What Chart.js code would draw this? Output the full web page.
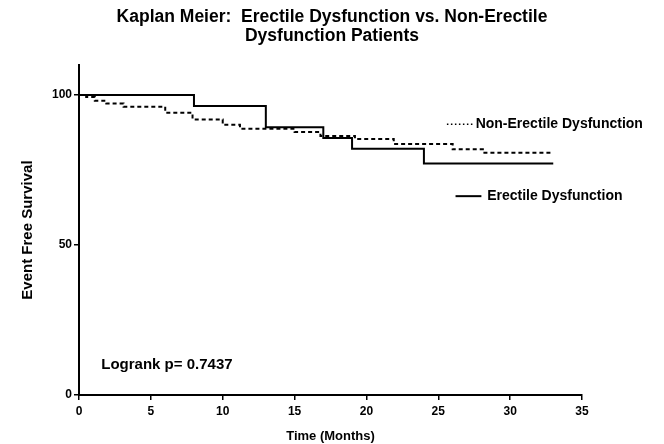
<!DOCTYPE html>
<html>
<head>
<meta charset="utf-8">
<script src="https://cdn.jsdelivr.net/npm/chart.js@4"></script>
<style>
  body { margin: 0; background: #fff; }
  #wrap { width: 664px; height: 444px; }
</style>
</head>
<body>
<div id="wrap"><canvas id="kmChart"></canvas></div>
<script>
const ctx = document.getElementById("kmChart");

// Kaplan Meier step data (time in months, event free survival %)
const timesED = [0, 8, 13, 17, 19, 24, 33];
const survivalED = [100, 96.4, 89.3, 85.7, 82.1, 77.2, 77.2];

const timesNonED = [0, 0.5, 1.1, 1.9, 3.1, 6.0, 7.9, 10.0, 11.2, 15.0, 16.8, 19.2, 21.9, 26.0, 28.1, 33];
const survivalNonED = [100, 99.4, 98.1, 97.2, 96.1, 94.1, 91.9, 90.1, 88.8, 87.7, 86.4, 85.4, 83.7, 81.9, 80.8, 80.8];

const xTicks = [0, 5, 10, 15, 20, 25, 30, 35];
const yTicks = [0, 50, 100];

const seriesLabels = ["Erectile Dysfunction", "Non-Erectile Dysfunction"];
const logrankText = "Logrank p= 0.7437";

const FONT = "'Liberation Sans', Arial, sans-serif";

// text labels placed inside the plot, positioned by data coordinates
const textLabels = {
  id: "textLabels",
  afterDatasetsDraw(chart) {
    const c = chart.ctx;
    const x = chart.scales.x;
    const y = chart.scales.y;
    c.save();
    c.fillStyle = "#000";
    c.strokeStyle = "#000";
    c.font = "bold 14px " + FONT;
    c.textBaseline = "middle";
    c.textAlign = "left";

    // Non-ED legend entry (dotted sample)
    let ly = y.getPixelForValue(90.3);
    c.lineWidth = 1.5;
    c.setLineDash([1.5, 2.5]);
    c.beginPath();
    c.moveTo(x.getPixelForValue(25.6), ly);
    c.lineTo(x.getPixelForValue(27.5), ly);
    c.stroke();
    c.setLineDash([]);
    c.fillText(seriesLabels[1], x.getPixelForValue(27.6), ly);

    // ED legend entry (solid sample)
    ly = y.getPixelForValue(66.3);
    c.lineWidth = 2;
    c.beginPath();
    c.moveTo(x.getPixelForValue(26.2), ly);
    c.lineTo(x.getPixelForValue(28.0), ly);
    c.stroke();
    c.fillText(seriesLabels[0], x.getPixelForValue(28.4), ly);

    c.font = "bold 15px " + FONT;
    c.fillText(logrankText, x.getPixelForValue(1.55), y.getPixelForValue(10));
    c.restore();
  },
};

new Chart(ctx, {
  type: "line",
  data: {
    datasets: [
      {
        label: seriesLabels[0],
        data: timesED.map((t, i) => ({ x: t, y: survivalED[i] })),
        borderColor: "#000",
        borderWidth: 2,
        stepped: "before",
        pointRadius: 0,
        fill: false,
      },
      {
        label: seriesLabels[1],
        data: timesNonED.map((t, i) => ({ x: t, y: survivalNonED[i] })),
        borderColor: "#000",
        borderWidth: 2,
        borderDash: [4, 3],
        stepped: "before",
        pointRadius: 0,
        fill: false,
      },
    ],
  },
  options: {
    responsive: true,
    maintainAspectRatio: false,
    animation: false,
    layout: {
      padding: { left: 0, right: 0, top: 0, bottom: 0 },
    },
    plugins: {
      legend: { display: false },
      tooltip: { enabled: false },
      title: {
        display: true,
        text: ["Kaplan Meier:  Erectile Dysfunction vs. Non-Erectile", "Dysfunction Patients"],
        color: "#000",
        font: { family: FONT, size: 17.5, weight: "bold", lineHeight: 1.06 },
        padding: { top: 8, bottom: 20 },
      },
    },
    scales: {
      x: {
        type: "linear",
        min: 0,
        max: 35,
        afterBuildTicks: (scale) => {
          scale.ticks = xTicks.map((v) => ({ value: v }));
        },
        afterFit: (scale) => {
          scale.height = 49;
        },
        border: { display: true, color: "#000", width: 2 },
        grid: { drawOnChartArea: false, drawTicks: true, tickLength: 5, color: "#000", lineWidth: 1.5 },
        ticks: {
          color: "#000",
          padding: 4,
          maxRotation: 0,
          font: { family: FONT, size: 12, weight: "bold" },
        },
        title: {
          display: true,
          text: "Time (Months)",
          color: "#000",
          padding: { top: 0, bottom: 0 },
          font: { family: FONT, size: 13, weight: "bold" },
        },
      },
      y: {
        type: "linear",
        min: 0,
        max: 110,
        afterBuildTicks: (scale) => {
          scale.ticks = yTicks.map((v) => ({ value: v }));
        },
        afterFit: (scale) => {
          scale.width = 79;
        },
        border: { display: true, color: "#000", width: 2 },
        grid: { drawOnChartArea: false, drawTicks: true, tickLength: 5, color: "#000", lineWidth: 1.5 },
        ticks: {
          color: "#000",
          padding: 2,
          font: { family: FONT, size: 12, weight: "bold" },
        },
        title: {
          display: true,
          text: "Event Free Survival",
          color: "#000",
          padding: { top: 19, bottom: 0 },
          font: { family: FONT, size: 15, weight: "bold" },
        },
      },
      // empty right-hand axis: reserves room for the in-plot legend text
      spacer: {
        type: "linear",
        position: "right",
        display: true,
        afterFit: (scale) => {
          scale.width = 82;
        },
        border: { display: false },
        grid: { display: false },
        ticks: { display: false },
      },
    },
  },
  plugins: [textLabels],
});
</script>
</body>
</html>
